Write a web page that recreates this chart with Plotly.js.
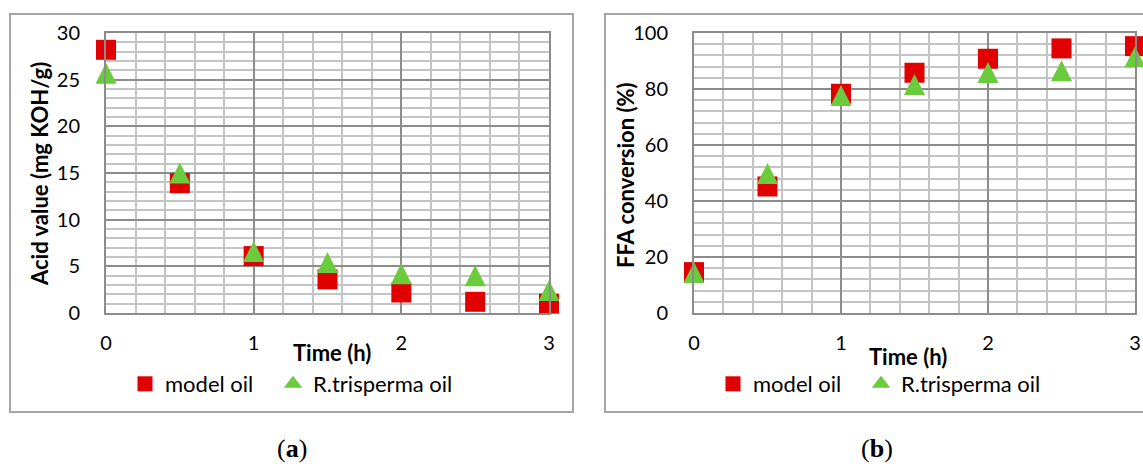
<!DOCTYPE html>
<html>
<head>
<meta charset="utf-8">
<script src="https://cdn.plot.ly/plotly-3.0.1.min.js"></script>
<style>html,body{margin:0;padding:0;background:#fff;}#chart{width:1143px;height:464px;}</style>
</head>
<body>
<div id="chart"></div>
<script>
// ---- data ----
const timeH = [0, 0.5, 1, 1.5, 2, 2.5, 3];
const acidModel = [28.2, 13.9, 6.1, 3.6, 2.2, 1.2, 1.0];
const acidTrisperma = [25.7, 15.0, 6.6, 5.4, 4.2, 4.0, 2.4];
const ffaModel = [14.6, 45.2, 78.3, 85.8, 90.8, 94.5, 95.3];
const ffaTrisperma = [14.5, 49.8, 77.7, 81.6, 85.9, 86.5, 91.5];
const seriesNames = ['model oil', 'R.trisperma oil'];
const xTickVals = [0, 1, 2, 3];
const xTickText = ['0', '1', '2', '3'];
const yTitleA = 'Acid value (mg KOH/g)';
const yTitleB = 'FFA conversion (%)';
const xTitle = 'Time (h)';
const panelLabels = ['(<b>a</b>)', '(<b>b</b>)'];

// ---- style ----
const W = 1143, H = 464;
const RED = '#e00000', GREEN = '#6acb3c';
const FONT = 'Lato, Carlito, Calibri, sans-serif';
const px = v => v / W, py = v => 1 - v / H;

const sq = {symbol: 'square', size: 20, color: RED, line: {width: 0}};
const tri = {symbol: 'arrow-down', angle: 180, standoff: 10.5, size: 21, color: GREEN, line: {width: 0}};
const sqLeg = {symbol: 'square', size: 15, color: RED, line: {width: 0}};
const triLeg = {symbol: 'triangle-up', size: 16, color: GREEN, line: {width: 0}};

function pts(x, y, name, marker, xa, ya) {
  return {x: x, y: y, name: name, type: 'scatter', mode: 'markers', marker: marker,
          xaxis: xa, yaxis: ya, cliponaxis: false, showlegend: false};
}
function legItem(name, marker, xa, ya, leg, lw) {
  const t = {x: [null], y: [null], name: name, type: 'scatter', mode: 'markers', marker: marker,
             xaxis: xa, yaxis: ya, showlegend: true, legend: leg};
  if (lw) t.legendwidth = lw;
  return t;
}

const traces = [
  pts(timeH, acidModel, seriesNames[0], sq, 'x', 'y'),
  pts(timeH, acidTrisperma, seriesNames[1], tri, 'x', 'y'),
  pts(timeH, ffaModel, seriesNames[0], sq, 'x2', 'y2'),
  pts(timeH, ffaTrisperma, seriesNames[1], tri, 'x2', 'y2'),
  legItem(seriesNames[0], sqLeg, 'x', 'y', 'legend', 103),
  legItem(seriesNames[1], triLeg, 'x', 'y', 'legend'),
  legItem(seriesNames[0], sqLeg, 'x2', 'y2', 'legend2', 103),
  legItem(seriesNames[1], triLeg, 'x2', 'y2', 'legend2')
];

function xAx(domain) {
  return {
    domain: domain, range: [0, 3], tickvals: xTickVals, ticktext: xTickText,
    showgrid: true, gridcolor: '#8c8c8c', gridwidth: 2,
    minor: {dtick: 0.2, tick0: 0, showgrid: true, gridcolor: '#c4c4c4', gridwidth: 2, ticks: ''},
    showline: true, linecolor: '#8c8c8c', linewidth: 2, mirror: true, zeroline: false,
    ticks: 'outside', ticklen: 11, tickcolor: 'rgba(0,0,0,0)',
    tickfont: {family: FONT, size: 20, color: '#000'}, fixedrange: true
  };
}
function yAx(domain, max, major, minor, anchor) {
  return {
    domain: domain, range: [0, max], dtick: major, tick0: 0, anchor: anchor,
    showgrid: true, gridcolor: '#8c8c8c', gridwidth: 2,
    minor: {dtick: minor, tick0: 0, showgrid: true, gridcolor: '#c4c4c4', gridwidth: 2, ticks: ''},
    showline: true, linecolor: '#8c8c8c', linewidth: 2, mirror: true, zeroline: false,
    ticks: 'outside', ticklen: 20, tickcolor: 'rgba(0,0,0,0)',
    tickfont: {family: FONT, size: 20, color: '#000'}, fixedrange: true
  };
}
function ann(text, x, y, size, extra) {
  return Object.assign({text: text, xref: 'paper', yref: 'paper', x: px(x), y: py(y),
    xanchor: 'center', yanchor: 'middle', showarrow: false,
    font: {family: FONT, size: size, color: '#000'}}, extra || {});
}

const yDom = [1 - 313 / H, 1 - 33 / H];
const legFont = {family: FONT, size: 22, color: '#000'};
const layout = {
  width: W, height: H, margin: {l: 0, r: 0, t: 0, b: 0},
  paper_bgcolor: '#fff', plot_bgcolor: '#fff', showlegend: true,
  xaxis: Object.assign(xAx([px(106), px(549)]), {anchor: 'y'}),
  yaxis: yAx(yDom, 30, 5, 1, 'x'),
  xaxis2: Object.assign(xAx([px(694), px(1135)]), {anchor: 'y2'}),
  yaxis2: yAx(yDom, 100, 20, 4, 'x2'),
  legend: {orientation: 'h', x: px(125), y: py(384), xanchor: 'left', yanchor: 'middle',
           font: legFont, bgcolor: 'rgba(0,0,0,0)', itemclick: false},
  legend2: {orientation: 'h', x: px(713), y: py(384), xanchor: 'left', yanchor: 'middle',
           font: legFont, bgcolor: 'rgba(0,0,0,0)', itemclick: false},
  shapes: [
    {type: 'rect', xref: 'paper', yref: 'paper', x0: px(10), x1: px(573), y0: py(412), y1: py(14), line: {color: '#a6a6a6', width: 2}, layer: 'below'},
    {type: 'rect', xref: 'paper', yref: 'paper', x0: px(605), x1: px(1160), y0: py(412), y1: py(14), line: {color: '#a6a6a6', width: 2}, layer: 'below'}
  ],
  annotations: [
    ann('<b>' + xTitle + '</b>', 332, 352, 22),
    ann('<b>' + xTitle + '</b>', 908, 356, 22),
    ann('<b>' + yTitleA + '</b>', 39, 174, 22, {textangle: -90}),
    ann('<b>' + yTitleB + '</b>', 625, 175, 22, {textangle: -90}),
    ann(panelLabels[0], 292, 448, 26, {font: {family: 'Liberation Serif, serif', size: 26, color: '#000'}}),
    ann(panelLabels[1], 877, 448, 26, {font: {family: 'Liberation Serif, serif', size: 26, color: '#000'}})
  ]
};

Plotly.newPlot('chart', traces, layout, {staticPlot: true, displayModeBar: false});
</script>
</body>
</html>
